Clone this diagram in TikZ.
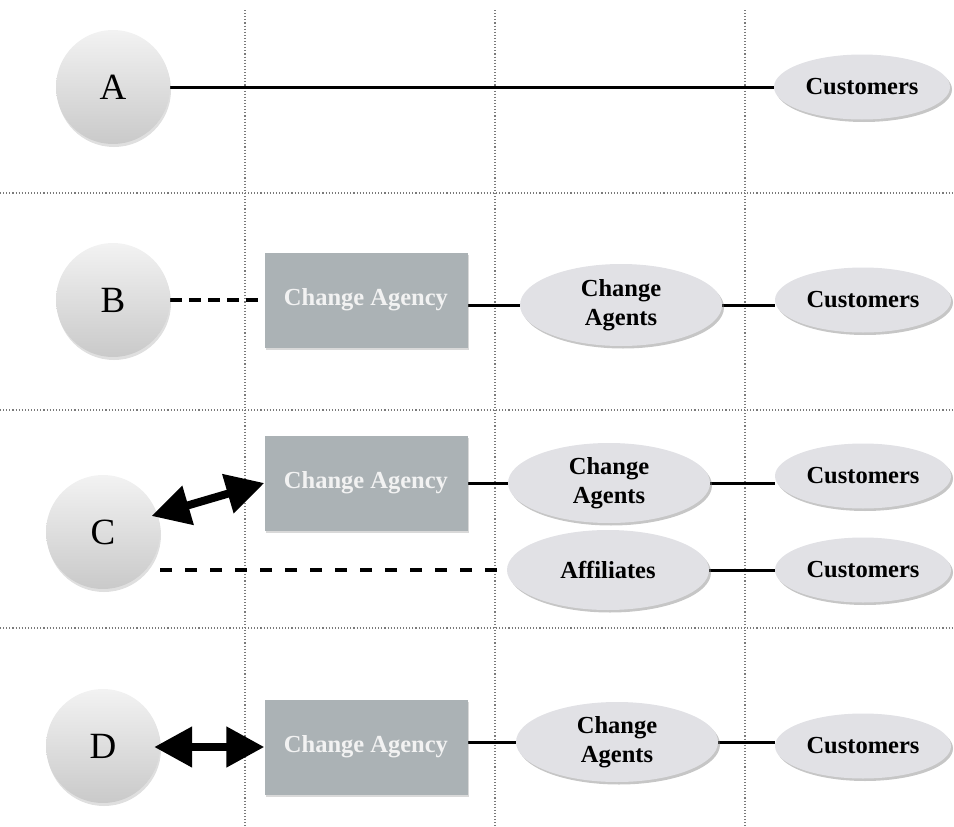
\documentclass[tikz,border=0pt]{standalone}
\usepackage{fontspec}
\setmainfont{Liberation Serif}
\usetikzlibrary{shapes.geometric,shadows,arrows.meta,backgrounds}
\definecolor{gridgray}{HTML}{7A7A7A}
\definecolor{ovalfill}{HTML}{E1E1E5}
\definecolor{boxfill}{HTML}{ABB2B5}
\definecolor{boxtext}{HTML}{F2F2F2}
\tikzset{
  gridline/.style={gridgray, line width=1.1pt, dotted},
  ball/.style={circle, minimum size=114pt, inner sep=0pt,
    top color=gray!10, bottom color=gray!42,
    drop shadow={shadow xshift=1pt, shadow yshift=-3pt, opacity=0.25, fill=gray},
    font=\fontsize{37}{40}\selectfont},
  oval/.style={ellipse, inner sep=0pt, fill=ovalfill,
    minimum width=202pt, minimum height=80pt,
    drop shadow={shadow xshift=2pt, shadow yshift=-2.5pt, opacity=0.45},
    font=\fontsize{24.5}{29}\selectfont\bfseries, align=center},
  custoval/.style={oval, minimum width=176pt, minimum height=65pt},
  agencybox/.style={rectangle, fill=boxfill, minimum width=203pt, minimum height=95pt,
    inner sep=0pt, text=boxtext,
    drop shadow={shadow xshift=1pt, shadow yshift=-2pt, opacity=0.3},
    font=\fontsize{24.5}{29}\selectfont\bfseries},
  link/.style={line width=3pt},
  dashlinkB/.style={line width=3.8pt, dash pattern=on 12pt off 7pt},
  dashlinkC/.style={line width=4pt, dash pattern=on 12pt off 13pt},
  bigarrow/.style={line width=8pt, shorten <=-6pt,
    {Triangle[length=38pt,width=39pt]}-{Triangle[length=38pt,width=39pt]}},
}
\begin{document}
\begin{tikzpicture}[x=1pt,y=-1pt]
\useasboundingbox (0,0) rectangle (954,827);

% row A
\node[ball] (A) at (113,87) {A};
\node[custoval] (custA) at (862,87) {Customers};

% row B
\node[ball] (B) at (113,300) {B};
\node[agencybox] (agencyB) at (366,300) {Change Agency};
\node[oval, minimum height=82pt] (agentsB) at (621,305) {Change\\Agents};
\node[custoval] (custB) at (863,300) {Customers};

% row C
\node[ball] (C) at (103,532) {C};
\node[agencybox] (agencyC) at (366,483) {Change Agency};
\node[oval] (agentsC) at (609,483) {Change\\Agents};
\node[custoval] (custC) at (863,476) {Customers};
\node[oval] (affil) at (608,570) {Affiliates};
\node[custoval] (custC2) at (863,570) {Customers};

% row D
\node[ball] (D) at (103,746) {D};
\node[agencybox] (agencyD) at (366,747) {Change Agency};
\node[oval] (agentsD) at (617,742) {Change\\Agents};
\node[custoval] (custD) at (863,746) {Customers};

\begin{scope}[on background layer]
  % dotted grid
  \foreach \gx in {245,495,745} \draw[gridline] (\gx,10) -- (\gx,827);
  \foreach \gy in {193,410,628} \draw[gridline] (0,\gy) -- (954,\gy);

  % connectors
  \draw[link] (A.east) -- (custA.west);

  \draw[dashlinkB] (B.east) -- (agencyB.west);
  \draw[link] (agencyB.east |- agentsB.west) -- (agentsB.west);
  \draw[link] (agentsB.east) -- (custB.west |- agentsB.east);

  \draw[link] (agencyC.east) -- (agentsC.west);
  \draw[link] (agentsC.east) -- (custC.west |- agentsC.east);
  \draw[dashlinkC] (C.east |- affil.west) -- (affil.west);
  \draw[link] (affil.east) -- (custC2.west);

  \draw[link] (agencyD.east |- agentsD.west) -- (agentsD.west);
  \draw[link] (agentsD.east) -- (custD.west |- agentsD.east);
\end{scope}

\draw[bigarrow] (C.18) -- (agencyC.west);
\draw[bigarrow] (C.east |- agencyD.west) -- (agencyD.west);
\end{tikzpicture}
\end{document}
